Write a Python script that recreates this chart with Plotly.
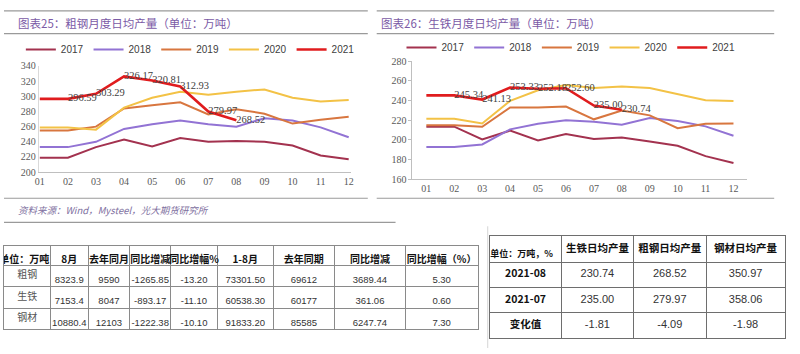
import plotly.graph_objects as go

months = ["01", "02", "03", "04", "05", "06", "07", "08", "09", "10", "11", "12"]
years = ["2017", "2018", "2019", "2020", "2021"]
colors = {"2017": "#A3324F", "2018": "#9273D4", "2019": "#D8763F", "2020": "#F3C246", "2021": "#E01C1E"}

# Chart 25: crude steel daily average output (10k t)
steel = {
    "2017": [219, 219, 233, 243, 234, 245, 240, 241, 240, 235, 222, 217],
    "2018": [233, 233, 240, 257, 263, 268, 263, 260, 271, 268, 259, 246],
    "2019": [255, 255, 260, 284, 288, 292, 276, 283, 277, 264, 269, 273],
    "2020": [259, 259, 256, 285, 298, 306, 302, 306, 309, 298, 293, 295],
    "2021": [296.59, 296.59, 303.29, 326.17, 320.81, 312.93, 279.97, 268.52],
}
# Chart 26: pig iron daily average output (10k t)
iron = {
    "2017": [213.5, 213.5, 200.5, 209.5, 199.5, 206, 201, 202.5, 198.5, 194, 183.5, 176.5],
    "2018": [192.8, 192.8, 195.4, 210.8, 216.4, 220, 218.4, 215.4, 222.3, 219.3, 213.8, 204.3],
    "2019": [215, 215, 213.4, 233, 233, 234, 221, 230, 225, 212, 216.4, 216.7],
    "2020": [221.6, 221.6, 216.7, 239.7, 250.5, 256, 252.8, 254.4, 252.8, 246.2, 240.3, 239.7],
    "2021": [245.34, 245.34, 241.13, 253.33, 252.18, 252.60, 235.00, 230.74],
}

title1 = "图表25：粗钢月度日均产量（单位：万吨）"
title2 = "图表26：生铁月度日均产量（单位：万吨）"
source = "资料来源：Wind，Mysteel，光大期货研究所"

# Table 1
t1_header = ["单位：万吨", "8月", "去年同月", "同比增减", "同比增幅%", "1-8月", "去年同期", "同比增减", "同比增幅（%）"]
t1_items = ["粗钢", "生铁", "钢材"]
t1_aug = [8323.9, 7153.4, 10880.4]
t1_aug_ly = [9590, 8047, 12103]
t1_aug_chg = [-1265.85, -893.17, -1222.38]
t1_aug_pct = [-13.20, -11.10, -10.10]
t1_ytd = [73301.50, 60538.30, 91833.20]
t1_ytd_ly = [69612, 60177, 85585]
t1_ytd_chg = [3689.44, 361.06, 6247.74]
t1_ytd_pct = [5.30, 0.60, 7.30]

# Table 2
t2_header = ["单位：万吨，%", "生铁日均产量", "粗钢日均产量", "钢材日均产量"]
t2_rows = ["2021-08", "2021-07", "变化值"]
t2_iron = [230.74, 235.00, -1.81]
t2_steel = [268.52, 279.97, -4.09]
t2_product = [350.97, 358.06, -1.98]

W, H = 800, 354
def px(x):
    return x / W
def py(y):
    return (H - y) / H

serif = "Liberation Serif"
sans = "Liberation Sans"
cjk = "Noto Sans CJK SC"

fig = go.Figure()

for (data, xa, ya, leg) in [(steel, "x", "y", "legend"), (iron, "x2", "y2", "legend2")]:
    for yr in years:
        vals = data[yr]
        is21 = yr == "2021"
        txt = [""] + ["%.2f" % v for v in vals[1:]] if is21 else None
        fig.add_trace(go.Scatter(
            x=months[:len(vals)], y=vals, name=yr,
            mode="lines+text" if is21 else "lines",
            text=txt, textposition="middle right",
            textfont=dict(family=serif, size=10.5, color="#404040"),
            line=dict(color=colors[yr], width=2.6 if is21 else 2),
            xaxis=xa, yaxis=ya, legend=leg, cliponaxis=False, hoverinfo="skip",
        ))

# ---------- tables drawn on their own cartesian axes ----------
def cum(ws):
    out = [0]
    for w in ws:
        out.append(out[-1] + w)
    return out

# Table 1 geometry
t1_colw = [46.7, 38.3, 41.7, 41.6, 46.7, 56.7, 61.6, 71.7, 73]
t1_rowh = [20, 21.7, 22.7, 21.3]
t1_xb = cum(t1_colw)
t1_yb = cum(t1_rowh)
t1_cols = [t1_aug, t1_aug_ly, t1_aug_chg, t1_aug_pct, t1_ytd, t1_ytd_ly, t1_ytd_chg, t1_ytd_pct]
t1_fmt = [".1f", "d", ".2f", ".2f", ".2f", "d", ".2f", ".2f"]

hx, hy, ht = [], [], []
for j, h in enumerate(t1_header):
    if j == 0:
        continue
    hx.append((t1_xb[j] + t1_xb[j + 1]) / 2)
    hy.append(t1_yb[1] - 5)
    ht.append("<b>%s</b>" % h)
fig.add_trace(go.Scatter(x=hx, y=hy, text=ht, mode="text", textposition="middle center",
                         textfont=dict(family=cjk, size=10, color="#111111"),
                         xaxis="x3", yaxis="y3", showlegend=False, hoverinfo="skip"))
fig.add_trace(go.Scatter(x=[t1_xb[1] - 1], y=[t1_yb[1] - 5], text=["<b>%s</b>" % t1_header[0]],
                         mode="text", textposition="middle left", cliponaxis=True,
                         textfont=dict(family=cjk, size=10, color="#111111"),
                         xaxis="x3", yaxis="y3", showlegend=False, hoverinfo="skip"))
lx, ly = [], []
for i, it in enumerate(t1_items):
    lx.append((t1_xb[0] + t1_xb[1]) / 2)
    ly.append((t1_yb[i + 1] + t1_yb[i + 2]) / 2)
fig.add_trace(go.Scatter(x=lx, y=ly, text=t1_items, mode="text",
                         textfont=dict(family=cjk, size=10, color="#555555"),
                         xaxis="x3", yaxis="y3", showlegend=False, hoverinfo="skip"))
nx, ny, nt = [], [], []
for j, col in enumerate(t1_cols):
    for i, v in enumerate(col):
        nx.append((t1_xb[j + 1] + t1_xb[j + 2]) / 2)
        ny.append((t1_yb[i + 1] + t1_yb[i + 2]) / 2 + 5)
        nt.append(format(v, t1_fmt[j]))
fig.add_trace(go.Scatter(x=nx, y=ny, text=nt, mode="text",
                         textfont=dict(family=sans, size=9.5, color="#333333"),
                         xaxis="x3", yaxis="y3", showlegend=False, hoverinfo="skip"))

# Table 2 geometry
t2_colw = [72.3, 72.7, 73.3, 79.7]
t2_rowh = [26.7, 26, 26.7, 25.6]
t2_xb = cum(t2_colw)
t2_yb = cum(t2_rowh)
t2_cols = [t2_iron, t2_steel, t2_product]

hx, hy, ht = [], [], []
for j, h in enumerate(t2_header[1:]):
    hx.append((t2_xb[j + 1] + t2_xb[j + 2]) / 2)
    hy.append(t2_yb[1] / 2)
    ht.append("<b>%s</b>" % h)
fig.add_trace(go.Scatter(x=hx, y=hy, text=ht, mode="text",
                         textfont=dict(family=cjk, size=10.5, color="#111111"),
                         xaxis="x4", yaxis="y4", showlegend=False, hoverinfo="skip"))
fig.add_trace(go.Scatter(x=[t2_xb[0] + 0.5], y=[t2_yb[1] - 7], text=["<b>%s</b>" % t2_header[0]],
                         mode="text", textposition="middle right",
                         textfont=dict(family=cjk, size=9, color="#111111"),
                         xaxis="x4", yaxis="y4", showlegend=False, hoverinfo="skip"))
lx, ly = [], []
for i, r in enumerate(t2_rows):
    lx.append((t2_xb[0] + t2_xb[1]) / 2)
    ly.append((t2_yb[i + 1] + t2_yb[i + 2]) / 2)
fig.add_trace(go.Scatter(x=lx, y=ly, text=["<b>%s</b>" % r for r in t2_rows], mode="text",
                         textfont=dict(family=cjk, size=10.5, color="#111111"),
                         xaxis="x4", yaxis="y4", showlegend=False, hoverinfo="skip"))
nx, ny, nt = [], [], []
for j, col in enumerate(t2_cols):
    for i, v in enumerate(col):
        nx.append((t2_xb[j + 1] + t2_xb[j + 2]) / 2)
        ny.append((t2_yb[i + 1] + t2_yb[i + 2]) / 2)
        nt.append(format(v, ".2f"))
fig.add_trace(go.Scatter(x=nx, y=ny, text=nt, mode="text",
                         textfont=dict(family=sans, size=11, color="#333333"),
                         xaxis="x4", yaxis="y4", showlegend=False, hoverinfo="skip"))

axis_common = dict(showgrid=False, zeroline=False, tickfont=dict(family=serif, size=10, color="#595959"))

def table_axis(bounds, domain, color, reverse=False):
    rng = [bounds[-1], bounds[0]] if reverse else [bounds[0], bounds[-1]]
    return dict(domain=domain, range=rng, tickvals=bounds[1:-1], showgrid=True, gridcolor=color,
                gridwidth=1, showticklabels=False, ticks="", zeroline=False, showline=True,
                linecolor=color, linewidth=1, mirror=True, fixedrange=True)

shapes = []
def hline(x0, x1, y, color="#9a9a9a", w=1.2):
    shapes.append(dict(type="line", xref="paper", yref="paper", x0=px(x0), x1=px(x1),
                       y0=py(y), y1=py(y), line=dict(color=color, width=w)))
hline(0, 367, 5)
hline(0, 367, 28.5)
hline(0, 367, 199)
hline(376, 777, 5)
hline(376, 777, 28.5)
hline(376, 777, 199)
hline(0, 395, 224)
shapes.append(dict(type="line", xref="paper", yref="paper", x0=px(488), x1=px(488),
                   y0=py(228), y1=0, line=dict(color="#d5d5d5", width=1)))

legend_common = dict(orientation="h", yanchor="middle", xanchor="center",
                     font=dict(family=sans, size=10, color="#404040"), bgcolor="rgba(0,0,0,0)",
                     itemwidth=30, tracegroupgap=0)

fig.update_layout(
    width=W, height=H, autosize=False,
    margin=dict(l=0, r=0, t=0, b=0),
    paper_bgcolor="white", plot_bgcolor="white",
    font=dict(family=cjk),
    xaxis=dict(domain=[px(35), px(350)], anchor="y", type="category", range=[-0.04, 11.08],
               showline=True, linecolor="#bfbfbf", linewidth=1, ticks="", **axis_common),
    yaxis=dict(domain=[py(172), py(62)], anchor="x", range=[200, 340], dtick=20,
               showline=True, linecolor="#d9d9d9", linewidth=1, ticks="", **axis_common),
    xaxis2=dict(domain=[px(412), px(750)], anchor="y2", type="category", range=[-0.5, 11.5],
                showline=True, linecolor="#bfbfbf", linewidth=1, ticks="", **axis_common),
    yaxis2=dict(domain=[py(179.3), py(57.3)], anchor="x2", range=[160, 280], dtick=20,
                showline=True, linecolor="#bfbfbf", linewidth=1, ticks="outside", ticklen=3,
                tickcolor="#bfbfbf", **axis_common),
    xaxis3=dict(anchor="y3", **table_axis(t1_xb, [0, px(478)], "#8a8a8a")),
    yaxis3=dict(anchor="x3", **table_axis(t1_yb, [py(334), py(248.3)], "#8a8a8a", reverse=True)),
    xaxis4=dict(anchor="y4", **table_axis(t2_xb, [px(490), px(788)], "#6e6e6e")),
    yaxis4=dict(anchor="x4", **table_axis(t2_yb, [py(343.3), py(238.3)], "#6e6e6e", reverse=True)),
    legend=dict(x=px(188), y=py(45), **legend_common),
    legend2=dict(x=px(572), y=py(43), **legend_common),
    shapes=shapes,
    annotations=[
        dict(text=title1, x=px(12), y=py(18), xref="paper", yref="paper", xanchor="left",
             yanchor="middle", showarrow=False, font=dict(family=cjk, size=11.5, color="#7B5AA6")),
        dict(text=title2, x=px(378), y=py(18), xref="paper", yref="paper", xanchor="left",
             yanchor="middle", showarrow=False, font=dict(family=cjk, size=11.5, color="#7B5AA6")),
        dict(text="<i>%s</i>" % source, x=px(12), y=py(211), xref="paper", yref="paper",
             xanchor="left", yanchor="middle", showarrow=False,
             font=dict(family=cjk, size=9.5, color="#8070A0")),
    ],
)

fig.write_html("out.html")
